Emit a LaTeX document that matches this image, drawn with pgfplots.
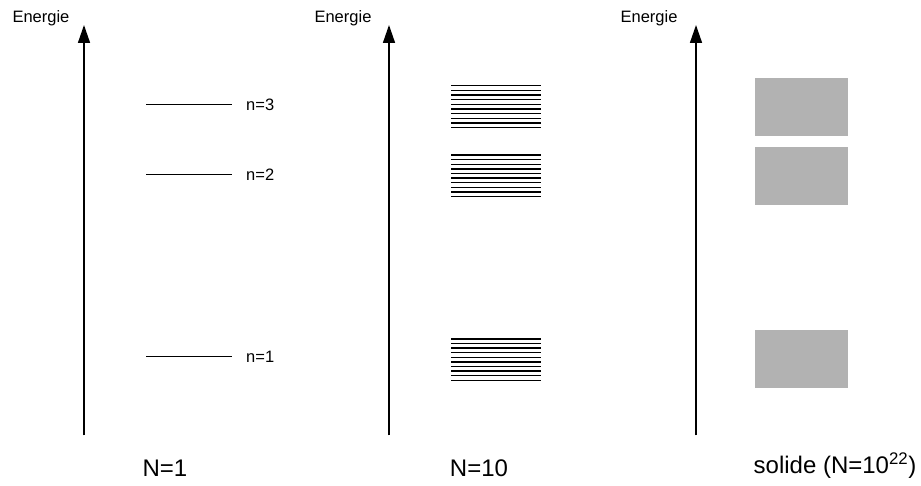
\documentclass[border=0pt]{standalone}
\usepackage{pgfplots}
\pgfplotsset{compat=1.18}
\usepackage{pgfplotstable}
\usepackage{fontspec}
\setmainfont{Liberation Sans}
\usetikzlibrary{arrows.meta}

% single levels (N=1); rows of nan separate segments
\pgfplotstableread{
x y
146 381
232 381
nan nan
146 311
232 311
nan nan
146 129
232 129
}\levelsone

\pgfplotstableread{
x y
451 400.3
541 400.3
nan nan
451 395.7
541 395.7
nan nan
451 391.0
541 391.0
nan nan
451 386.3
541 386.3
nan nan
451 381.7
541 381.7
nan nan
451 377.0
541 377.0
nan nan
451 372.3
541 372.3
nan nan
451 367.7
541 367.7
nan nan
451 363.0
541 363.0
nan nan
451 358.3
541 358.3
nan nan
451 331.0
541 331.0
nan nan
451 326.4
541 326.4
nan nan
451 321.7
541 321.7
nan nan
451 317.1
541 317.1
nan nan
451 312.5
541 312.5
nan nan
451 307.9
541 307.9
nan nan
451 303.2
541 303.2
nan nan
451 298.6
541 298.6
nan nan
451 294.0
541 294.0
nan nan
451 289.3
541 289.3
nan nan
451 147.0
541 147.0
nan nan
451 142.4
541 142.4
nan nan
451 137.8
541 137.8
nan nan
451 133.2
541 133.2
nan nan
451 128.6
541 128.6
nan nan
451 124.1
541 124.1
nan nan
451 119.5
541 119.5
nan nan
451 114.9
541 114.9
nan nan
451 110.3
541 110.3
nan nan
451 105.7
541 105.7
}\levelsten

\begin{document}
\begin{tikzpicture}
\begin{axis}[
  width=921pt, height=486pt, scale only axis,
  xmin=0, xmax=921, ymin=0, ymax=486,
  hide axis, clip=false,
]
% fix the bounding box to the full canvas
\path (axis cs:0,0) rectangle (axis cs:921,486);

% axes arrows
\addplot[black, line width=1.5pt, -{Triangle[length=18pt,width=12pt]}] coordinates {(84,50.5) (84,461)};
\addplot[black, line width=1.5pt, -{Triangle[length=18pt,width=12pt]}] coordinates {(389,50.5) (389,461)};
\addplot[black, line width=1.5pt, -{Triangle[length=18pt,width=12pt]}] coordinates {(696,50.5) (696,461)};

% levels
\addplot[black, line width=1pt, unbounded coords=jump] table[x=x, y=y] {\levelsone};
\addplot[black, line width=1.4pt, unbounded coords=jump] table[x=x, y=y] {\levelsten};

% bands
\addplot[fill=black!30, draw=none] coordinates {(755,350) (848,350) (848,408) (755,408)} -- cycle;
\addplot[fill=black!30, draw=none] coordinates {(755,281) (848,281) (848,339) (755,339)} -- cycle;
\addplot[fill=black!30, draw=none] coordinates {(755,98) (848,98) (848,156) (755,156)} -- cycle;

% texts
\node[font=\fontsize{16.5}{18}\selectfont] at (axis cs:41,468) {Energie};
\node[font=\fontsize{16.5}{18}\selectfont] at (axis cs:343,468) {Energie};
\node[font=\fontsize{16.5}{18}\selectfont] at (axis cs:649,468) {Energie};
\node[font=\fontsize{16.5}{18}\selectfont, anchor=west, inner sep=0pt] at (axis cs:246,381) {n=3};
\node[font=\fontsize{16.5}{18}\selectfont, anchor=west, inner sep=0pt] at (axis cs:246,311) {n=2};
\node[font=\fontsize{16.5}{18}\selectfont, anchor=west, inner sep=0pt] at (axis cs:246,129) {n=1};
\node[font=\fontsize{24}{27}\selectfont] at (axis cs:165,18) {N=1};
\node[font=\fontsize{24}{27}\selectfont] at (axis cs:479,18) {N=10};
\node[font=\fontsize{24}{27}\selectfont] at (axis cs:835,20) {solide (N=10\textsuperscript{22})};
\end{axis}
\end{tikzpicture}
\end{document}
